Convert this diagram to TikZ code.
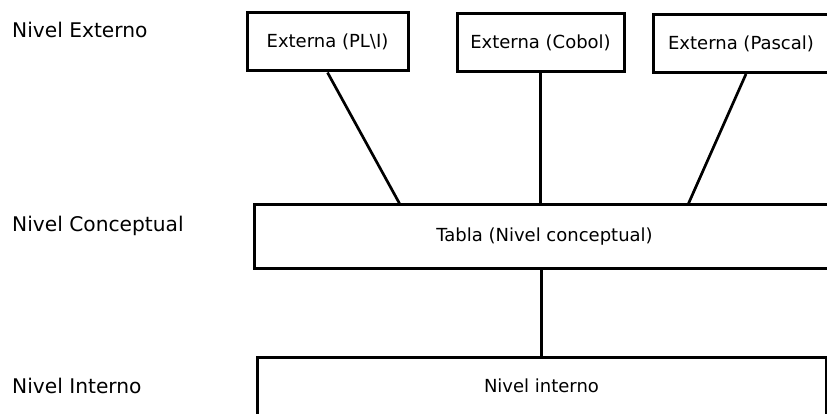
\documentclass[tikz,border=0pt]{standalone}
\usepackage{fontspec}
\setmainfont{DejaVu Sans}
\usepackage{tikz}
\tikzset{
  nivel/.style = {anchor=west, inner sep=0pt, font=\fontsize{20.2}{24}\selectfont},
  caja/.style = {draw, line width=3pt, inner sep=0pt, minimum height=58pt, font=\fontsize{18}{21}\selectfont},
  enlace/.style = {line width=2.7pt}
}

\begin{document}
\begin{tikzpicture}[x=1pt, y=-1pt]
\clip (0,0) rectangle (827,414);
\fill[white] (0,0) rectangle (827,414);
% niveles
\node[nivel] (lext) at (12,30) {Nivel Externo};
\node[nivel] (lcon) at (12,226) {Nivel Conceptual};
\node[nivel] (lint) at (12,386) {Nivel Interno};
% vistas externas
\node[caja, minimum width=161pt] (ext1) at (327.5,42) {Externa (PL\textbackslash I)};
\node[caja, minimum width=167pt] (ext2) at (540.5,42.5) {Externa (Cobol)};
\node[caja, minimum width=186pt] (ext3) at (746,43.5) {\hspace{-10pt}Externa (Pascal)};
% conceptual e interno
\node[caja, minimum width=580pt, minimum height=63pt] (tabla) at (544.5,236.5) {Tabla (Nivel conceptual)};
\node[caja, minimum width=569pt] (interno) at (541.5,386) {Nivel interno};
\draw[enlace] (ext1.south) -- ([xshift=-145pt]tabla.north);
\draw[enlace] (ext2.south) -- (ext2.south |- tabla.north);
\draw[enlace] (ext3.south) -- ([xshift=144pt]tabla.north);
\draw[enlace] (interno.north |- tabla.south) -- (interno.north);
\end{tikzpicture}
\end{document}
